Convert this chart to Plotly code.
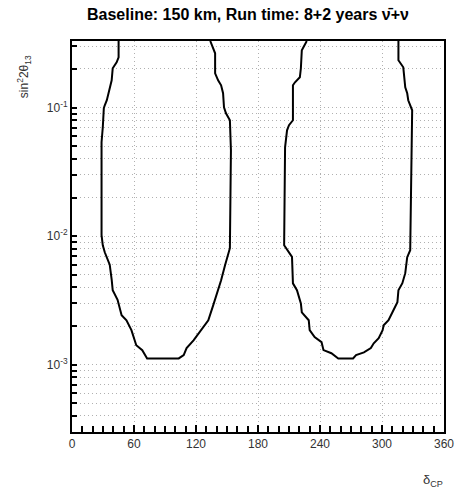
import math
import plotly.graph_objects as go

# ---- data ----
left_delta = [45.1, 45.1, 43.2, 39.4, 38.4, 36.5, 34.6, 33.7, 31.7, 30.8, 29.8, 28.6, 28.6,
              29.8, 31.7, 34.6, 36.5, 38.4, 39.4, 44.1, 46.0, 48.0, 52.7, 57.5, 62.2, 68.0,
              72.7, 103.3, 108.1, 110.9, 117.6, 125.2, 131.9, 136.7, 141.4, 144.3, 148.1,
              150.9, 152.8, 153.8, 152.8, 149.0, 147.1, 146.2, 144.3, 141.4, 138.5, 138.5,
              136.7, 133.8]
left_s2 = [0.33, 0.2465, 0.2254, 0.2024, 0.1633, 0.1415, 0.1183, 0.1142, 0.1044, 0.0989,
           0.0704, 0.0538, 0.0102, 0.0085, 0.0075, 0.0065, 0.0060, 0.0046, 0.0038, 0.0032,
           0.00275, 0.00243, 0.00222, 0.00186, 0.00142, 0.00130, 0.00112, 0.00112, 0.00119,
           0.00135, 0.00155, 0.00186, 0.00222, 0.00291, 0.00380, 0.00455, 0.00595, 0.00711,
           0.00807, 0.0466, 0.0798, 0.0905, 0.1007, 0.1294, 0.1493, 0.1633, 0.1851, 0.2649,
           0.2896, 0.33]

right_delta = [227.2, 222.4, 221.5, 220.5, 215.8, 213.8, 213.8, 210.0, 208.1, 206.2, 205.3,
               208.1, 212.9, 213.8, 217.7, 221.5, 222.4, 229.1, 230.0, 234.8, 241.5, 243.4,
               251.0, 257.7, 272.0, 274.9, 282.5, 289.2, 292.0, 296.8, 300.6, 301.6, 306.3,
               310.1, 314.9, 315.9, 319.7, 322.5, 324.4, 327.3, 328.2, 329.2, 325.4, 324.4,
               322.5, 320.6, 315.9, 315.9]
right_s2 = [0.33, 0.2796, 0.2024, 0.1724, 0.1576, 0.1493, 0.0798, 0.0730, 0.0667, 0.0492,
            0.0085, 0.0078, 0.0069, 0.0043, 0.0038, 0.0030, 0.00256, 0.00222, 0.00186,
            0.00164, 0.00150, 0.00130, 0.00123, 0.00112, 0.00112, 0.00119, 0.00125, 0.00135,
            0.00147, 0.00161, 0.00186, 0.00203, 0.00222, 0.00256, 0.00307, 0.00380, 0.00431,
            0.00516, 0.00687, 0.00778, 0.0466, 0.0954, 0.1142, 0.1294, 0.1441, 0.2061, 0.2336,
            0.33]

x_ticks = [0, 60, 120, 180, 240, 300, 360]
y_decades = [1e-3, 1e-2, 1e-1]
y_decade_labels = ["10<sup>-3</sup>", "10<sup>-2</sup>", "10<sup>-1</sup>"]
y_range = [3e-4, 0.33]

title_text = "<b>Baseline: 150 km, Run time: 8+2 years \u03bd\u0304+\u03bd</b>"

# minor grid values at every 2..9 x 10^n inside range
y_minor = []
for e in [-4, -3, -2, -1]:
    for m in range(2, 10):
        v = m * 10 ** e
        if y_range[0] * 0.999 <= v <= y_range[1]:
            y_minor.append(v)

FONT = "Liberation Sans, Arial, Helvetica, sans-serif"
GRID = "#b0b0b0"
DOT = "1px,3px"

fig = go.Figure()
for xs, ys in [(left_delta, left_s2), (right_delta, right_s2)]:
    fig.add_trace(go.Scatter(x=xs, y=ys, mode="lines",
                             line=dict(color="black", width=2), showlegend=False))

fig.update_layout(
    width=466, height=489,
    margin=dict(l=72, r=17, t=41, b=57),
    paper_bgcolor="white", plot_bgcolor="white",
    font=dict(family=FONT, color="#222"),
    showlegend=False,
)
fig.update_xaxes(
    range=[0, 360], tickvals=x_ticks, ticks="inside", ticklen=7, tickwidth=1.5,
    tickcolor="black", showline=True, linewidth=2, linecolor="black", mirror=True,
    showgrid=True, gridcolor=GRID, griddash=DOT, gridwidth=1, zeroline=False,
    tickfont=dict(size=12, family=FONT, color="#333"),
    minor=dict(dtick=10, ticks="inside", ticklen=6, tickwidth=1.5, tickcolor="black", showgrid=False),
)
fig.update_yaxes(
    type="log", range=[math.log10(y_range[0]), math.log10(y_range[1])],
    tickvals=y_decades, ticktext=y_decade_labels, ticks="inside", ticklen=5, tickwidth=2,
    tickcolor="black", showline=True, linewidth=2, linecolor="black", mirror=True,
    showgrid=True, gridcolor=GRID, griddash=DOT, gridwidth=1, zeroline=False,
    tickfont=dict(size=12, family=FONT, color="#333"),
    minor=dict(tickmode="array", tickvals=y_minor, ticks="inside", ticklen=5, tickwidth=2,
               tickcolor="black", showgrid=True, gridcolor=GRID, griddash=DOT, gridwidth=1),
)

fig.add_annotation(text=title_text, xref="paper", yref="paper", x=0.474, y=1,
                   xanchor="center", yanchor="bottom", yshift=16, showarrow=False,
                   font=dict(size=16, family=FONT, color="black"))
fig.add_annotation(text="sin<sup>2</sup>2\u03b8<sub>13</sub>", xref="paper", yref="paper",
                   x=-0.13, y=1, xanchor="center", yanchor="top", textangle=-90, yshift=-12,
                   showarrow=False, font=dict(size=12, family=FONT, color="#333"))
fig.add_annotation(text="\u03b4<sub>CP</sub>", xref="paper", yref="paper",
                   x=0.97, y=0, xanchor="center", yanchor="top", yshift=-38,
                   showarrow=False, font=dict(size=13, family=FONT, color="#333"))

fig.write_html("out.html")
